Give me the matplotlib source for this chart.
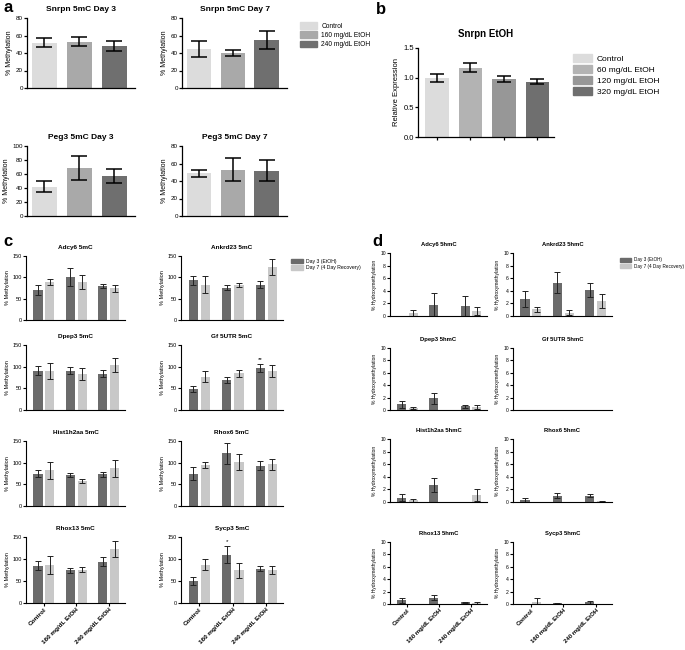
import numpy as np
import matplotlib
matplotlib.use('Agg')
import matplotlib.pyplot as plt
from matplotlib.patches import Patch

plt.rcParams['font.family'] = ['Liberation Sans', 'DejaVu Sans']

# panel a: Snrpn / Peg3 5mC
a_groups = ['Control', '160 mg/dL EtOH', '240 mg/dL EtOH']
a_titles = ['Snrpn 5mC Day 3', 'Snrpn 5mC Day 7', 'Peg3 5mC Day 3', 'Peg3 5mC Day 7']
a_means = [[52, 53, 48], [45, 40, 55], [42, 69, 57], [49, 53, 52]]
a_errs = [[5, 5, 6], [9, 3, 10], [8, 17, 10], [4, 13, 12]]
a_ymax = [80, 80, 100, 80]

# panel b: Snrpn expression
b_groups = ['Control', '60 mg/dL EtOH', '120 mg/dL EtOH', '320 mg/dL EtOH']
b_means = [1.00, 1.17, 0.97, 0.93]
b_errs = [0.07, 0.08, 0.05, 0.04]

# panels c/d: day 3 vs day 7
cd_groups = ['Control', '160 mg/dL EtOH', '240 mg/dL EtOH']
cd_series = ['Day 3 (EtOH)', 'Day 7 (4 Day Recovery)']
genes = ['Adcy6', 'Ankrd23', 'Dpep3', 'Gf 5UTR', 'Hist1h2aa', 'Rhox6', 'Rhox13', 'Sycp3']

c_day3 = [[71, 101, 80], [93, 76, 83], [91, 91, 84], [48, 70, 97],
          [75, 71, 73], [75, 122, 93], [85, 74, 94], [50, 110, 78]]
c_day3_err = [[12, 22, 4], [11, 5, 8], [10, 9, 8], [7, 7, 10],
              [7, 5, 6], [15, 24, 10], [10, 6, 10], [10, 20, 6]]
c_day7 = [[89, 89, 74], [83, 82, 124], [90, 84, 103], [77, 85, 91],
          [82, 58, 87], [95, 101, 96], [86, 76, 123], [87, 74, 76]]
c_day7_err = [[7, 17, 8], [20, 5, 18], [19, 14, 16], [13, 8, 14],
              [20, 5, 19], [7, 19, 13], [20, 6, 18], [12, 17, 9]]
c_stars = {3: (2, '**'), 7: (1, '*')}

d_day3 = [[0, 1.8, 1.6], [2.7, 5.3, 4.1], [0.9, 1.9, 0.6], [0, 0, 0],
          [0.7, 2.7, 0.05], [0.3, 1.0, 1.0], [0.6, 1.0, 0.3], [0, 0.1, 0.25]]
d_day3_err = [[0, 1.8, 1.6], [1.2, 1.7, 1.1], [0.5, 0.9, 0.2], [0, 0, 0],
              [0.5, 1.1, 0], [0.3, 0.4, 0.2], [0.4, 0.4, 0.1], [0, 0.05, 0.2]]
d_day7 = [[0.4, 0, 0.8], [1.1, 0.5, 2.4], [0.35, 0, 0.5], [0, 0, 0],
          [0.25, 0.05, 1.1], [0, 0.05, 0.1], [0.05, 0, 0.2], [0.4, 0, 0.05]]
d_day7_err = [[0.5, 0, 0.7], [0.4, 0.4, 1.1], [0.2, 0, 0.3], [0, 0, 0],
              [0.2, 0, 0.9], [0, 0, 0.1], [0, 0, 0.2], [0.5, 0, 0]]

W, H = 685, 650
fig = plt.figure(figsize=(W / 100, H / 100), dpi=100)


def px_axes(l, t, r, b):
    return fig.add_axes([l / W, 1 - b / H, (r - l) / W, (b - t) / H])


def style(ax, fs, lw):
    ax.spines['top'].set_visible(False)
    ax.spines['right'].set_visible(False)
    ax.spines['left'].set_linewidth(lw)
    ax.spines['bottom'].set_linewidth(lw)
    ax.tick_params(axis='y', labelsize=fs, width=lw, length=2, pad=1)
    ax.tick_params(axis='x', width=lw, length=2, pad=1)


a_colors = ['#dcdcdc', '#a9a9a9', '#6f6f6f']
a_boxes = [(27, 18, 135, 88), (182, 18, 287, 88), (27, 146, 135, 216), (182, 146, 287, 216)]
for i in range(4):
    ax = px_axes(*a_boxes[i])
    x = np.arange(3)
    ax.bar(x, a_means[i], width=0.72, color=a_colors)
    ax.errorbar(x, a_means[i], yerr=a_errs[i], fmt='none', ecolor='black',
                elinewidth=1.1, capsize=6, capthick=1.1)
    ax.set_xlim(-0.5, 2.6)
    ax.set_ylim(0, a_ymax[i])
    ax.set_yticks(np.arange(0, a_ymax[i] + 1, 20))
    ax.set_xticks([])
    style(ax, 4.5, 0.9)
    ax.set_ylabel('% Methylation', fontsize=5, labelpad=2)
    ax.set_title(a_titles[i], fontsize=6, fontweight='bold', pad=5)
fig.legend(handles=[Patch(color=c) for c in a_colors], labels=a_groups,
           loc='upper left', bbox_to_anchor=(294 / W, 1 - 16 / H), frameon=False,
           fontsize=4.8, handlelength=2.6, handleheight=1.2, labelspacing=0.25,
           handletextpad=0.6)

b_colors = ['#dcdcdc', '#b3b3b3', '#979797', '#6f6f6f']
ax = px_axes(418, 48, 554, 137)
x = np.arange(4)
ax.bar(x, b_means, width=0.7, color=b_colors)
ax.errorbar(x, b_means, yerr=b_errs, fmt='none', ecolor='black',
            elinewidth=1.1, capsize=5, capthick=1.1)
ax.set_xlim(-0.57, 3.5)
ax.set_ylim(0, 1.5)
ax.set_yticks([0.0, 0.5, 1.0, 1.5])
ax.set_yticklabels(['0.0', '0.5', '1.0', '1.5'])
ax.set_xticks(x)
ax.set_xticklabels([])
style(ax, 5.5, 0.9)
ax.set_ylabel('Relative Expression', fontsize=5.5, labelpad=2)
ax.set_title('Snrpn EtOH', fontsize=7, fontweight='bold', pad=8)
fig.legend(handles=[Patch(color=c) for c in b_colors], labels=b_groups,
           loc='upper left', bbox_to_anchor=(565 / W, 1 - 47 / H), frameon=False,
           fontsize=6, handlelength=2.3, handleheight=1.1, labelspacing=0.25,
           handletextpad=0.6)

cd_colors = ['#6b6b6b', '#c8c8c8']
c_rows = [(256, 320), (345, 410), (441, 506), (537, 603)]
c_cols = [(26, 125), (181, 283)]
d_rows = [(253, 316), (348, 410), (439, 502), (542, 604)]
d_cols = [(390, 487), (513, 612)]


def pair_panel(ax, d3, d3e, d7, d7e, ymax, step, ylabel, title, bottom, fs, xfs):
    x = np.arange(3)
    off = 0.18
    w = 0.28
    ax.bar(x - off, d3, width=w, color=cd_colors[0])
    ax.bar(x + off, d7, width=w, color=cd_colors[1])
    ax.errorbar(x - off, d3, yerr=d3e, fmt='none', ecolor='#222222',
                elinewidth=0.7, capsize=2, capthick=0.7)
    ax.errorbar(x + off, d7, yerr=d7e, fmt='none', ecolor='#222222',
                elinewidth=0.7, capsize=2, capthick=0.7)
    ax.set_xlim(-0.55, 2.5)
    ax.set_ylim(0, ymax)
    ax.set_yticks(np.arange(0, ymax + 0.01, step))
    style(ax, fs, 0.8)
    ax.set_ylabel(ylabel, fontsize=fs, labelpad=2)
    ax.set_title(title, fontsize=fs + 0.6, fontweight='bold', pad=5)
    if bottom:
        ax.set_xticks(x)
        ax.set_xticklabels(cd_groups, rotation=45, ha='right', rotation_mode='anchor',
                           fontsize=xfs, fontweight='bold')
    else:
        ax.set_xticks([])


for i in range(8):
    r, c = divmod(i, 2)
    ax = px_axes(c_cols[c][0], c_rows[r][0], c_cols[c][1], c_rows[r][1])
    pair_panel(ax, c_day3[i], c_day3_err[i], c_day7[i], c_day7_err[i], 150, 50,
               '% Methylation', genes[i] + ' 5mC', r == 3, 4, 4.6)
    if i in c_stars:
        g, s = c_stars[i]
        top = c_day3[i][g] + c_day3_err[i][g]
        ax.text(g - 0.18, top + 3, s, ha='center', va='bottom', fontsize=4.5)

    ax = px_axes(d_cols[c][0], d_rows[r][0], d_cols[c][1], d_rows[r][1])
    pair_panel(ax, d_day3[i], d_day3_err[i], d_day7[i], d_day7_err[i], 10, 2,
               '% Hydroxymethylation', genes[i] + ' 5hmC', r == 3, 3.6, 4.3)

fig.legend(handles=[Patch(color=c) for c in cd_colors], labels=cd_series,
           loc='upper left', bbox_to_anchor=(286 / W, 1 - 254 / H), frameon=False,
           fontsize=3.7, handlelength=2.4, handleheight=1.0, labelspacing=0.3,
           handletextpad=0.6)
fig.legend(handles=[Patch(color=c) for c in cd_colors], labels=cd_series,
           loc='upper left', bbox_to_anchor=(616 / W, 1 - 253 / H), frameon=False,
           fontsize=3.3, handlelength=2.4, handleheight=1.0, labelspacing=0.3,
           handletextpad=0.6)

fig.text(3 / W, 1 - 12 / H, 'a', fontsize=12, fontweight='bold')
fig.text(376 / W, 1 - 14 / H, 'b', fontsize=12, fontweight='bold')
fig.text(3 / W, 1 - 246 / H, 'c', fontsize=12, fontweight='bold')
fig.text(372 / W, 1 - 246 / H, 'd', fontsize=12, fontweight='bold')

fig.savefig('out.png', dpi=100)
